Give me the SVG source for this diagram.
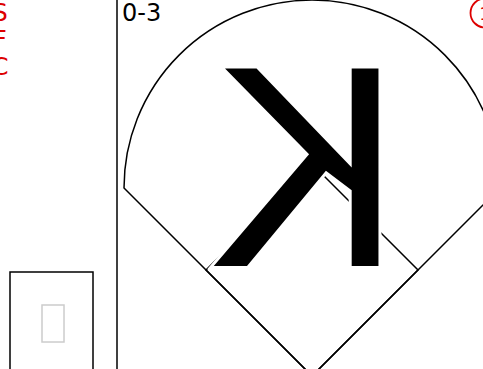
<svg xmlns="http://www.w3.org/2000/svg" width="483" height="369" viewBox="0 0 483 369">
<style>
.ln{fill:none;stroke:#000;stroke-width:1.5}
.red{fill:#d00;font-family:"DejaVu Sans",sans-serif;font-size:24px}
.txt{fill:#000;font-family:"DejaVu Sans",sans-serif}
</style>
<rect width="483" height="369" fill="#fff"/>
<g id="positions">
<text class="red" x="0" y="20.5" text-anchor="middle">S</text>
<text class="red" x="0" y="47.5" text-anchor="middle">F</text>
<text class="red" x="0" y="74.5" text-anchor="middle">C</text>
</g>
<g id="divider"><line class="ln" x1="117" y1="0" x2="117" y2="369"/></g>
<g id="sub-box">
<rect class="ln" x="10" y="272" width="83" height="110"/>
<rect x="42" y="305" width="22" height="37" fill="none" stroke="#ccc" stroke-width="1.5"/>
</g>
<g id="count"><text class="txt" x="122" y="20.5" font-size="24">0-3</text></g>
<g id="out-number">
<circle cx="485" cy="13" r="14.5" fill="none" stroke="#d00" stroke-width="1.8"/>
<text class="red" x="485" y="20" text-anchor="middle" style="font-size:18px">1</text>
</g>
<g id="field">
<path class="ln" d="M124,188 A188,188 0 0 1 500,188 L312,376 Z"/>
<path class="ln" d="M312,376 L418,270 L312,164 L206,270 Z"/>
</g>
<g id="strikeout">
<text transform="translate(402,266) scale(-1,1)" x="0" y="0" fill="#000" font-family="'Liberation Sans',Arial,sans-serif" font-size="287" stroke="#fff" stroke-width="6" paint-order="stroke">K</text>
</g>
</svg>
